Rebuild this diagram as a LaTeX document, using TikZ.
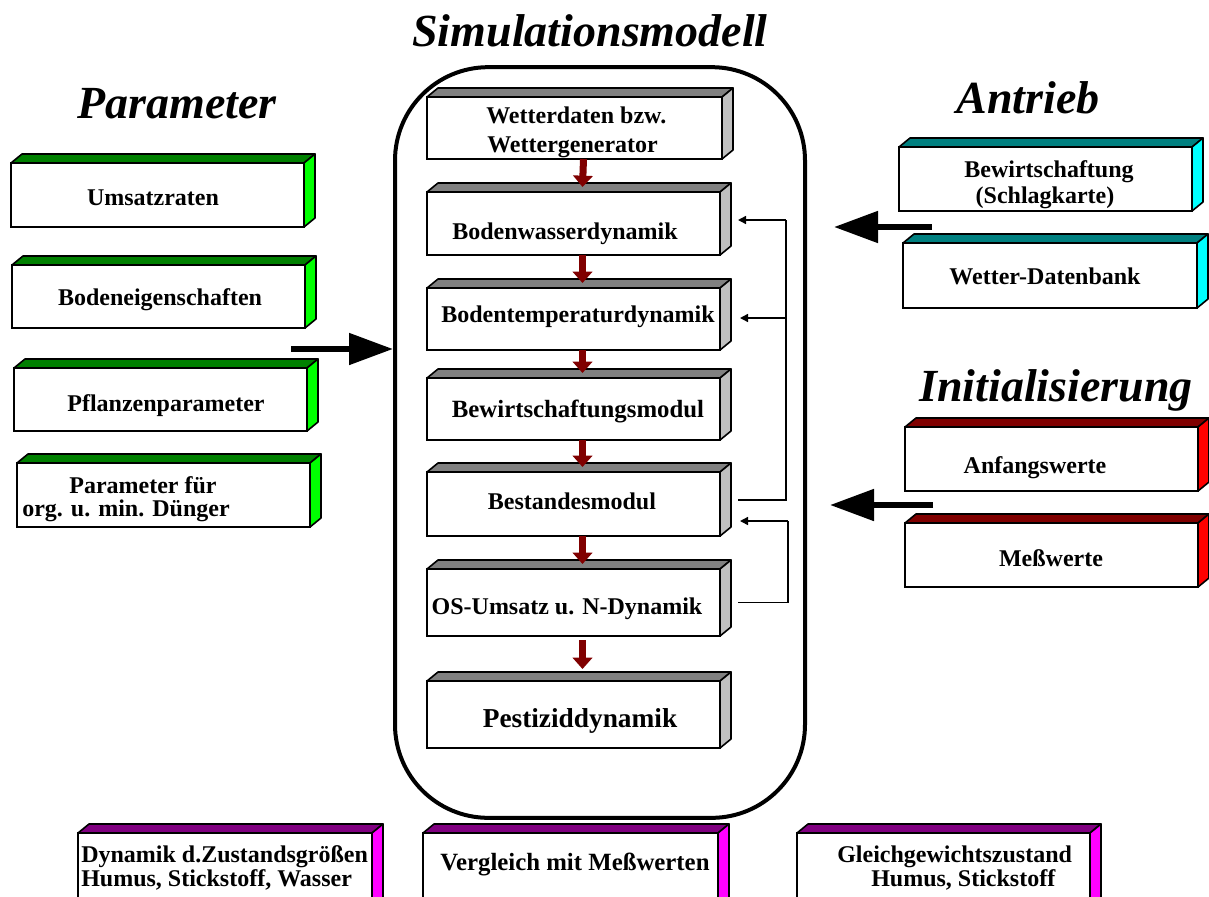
\documentclass[tikz,border=0pt]{standalone}
\usepackage{fontspec}
\setmainfont{Liberation Serif}
\usetikzlibrary{arrows.meta,fit,calc}
\definecolor{gtop}{HTML}{008000}\definecolor{gside}{HTML}{00FF00}
\definecolor{ktop}{HTML}{808080}\definecolor{kside}{HTML}{C0C0C0}
\definecolor{ttop}{HTML}{008080}\definecolor{tside}{HTML}{00FFFF}
\definecolor{rtop}{HTML}{800000}\definecolor{rside}{HTML}{FF0000}
\definecolor{ptop}{HTML}{800080}\definecolor{pside}{HTML}{FF00FF}
\definecolor{maroon}{HTML}{800000}
\newcommand{\tdbox}[7]{%
  \coordinate (#1-a) at (#2,#3);
  \coordinate (#1-b) at (#4,#5);
  \node[frontbox, fit=(#1-a)(#1-b)] (#1) {};
  \filldraw[face, fill=#6] (#1.north west) -- ++(11,-9) -- ([shift={(11,-9)}]#1.north east) -- (#1.north east) -- cycle;
  \filldraw[face, fill=#7] (#1.north east) -- ++(11,-9) -- ([shift={(11,-9)}]#1.south east) -- (#1.south east) -- cycle;
}
\begin{document}
\begin{tikzpicture}[x=0.75pt,y=-0.75pt,
  frontbox/.style={draw=black, fill=white, line width=1.4pt, inner sep=0pt, outer sep=0pt},
  face/.style={draw=black, line width=1.2pt, line join=round},
  lbl/.style={font=\fontsize{18}{15.75}\selectfont\bfseries, inner sep=0pt, anchor=base},
  ttl/.style={font=\fontsize{34.5}{40}\selectfont\bfseries\itshape, inner sep=0pt, anchor=base},
  redarrow/.style={draw=maroon, line width=5.25pt, -{Triangle[length=8.5pt,width=14.5pt,fill=maroon]}},
  bigarrow/.style={draw=black, line width=4.5pt, -{Triangle[length=33pt,width=23pt]}},
  fb/.style={draw=black, line width=1.1pt},
  fbarrow/.style={fb, -{Triangle[length=6pt,width=6pt]}}]
\useasboundingbox (0,0) rectangle (1209,896);
\clip (0,0) rectangle (1209,896);

% titles
\node[ttl] (tsim) at (590,46) {Simulationsmodell};
\node[ttl] (tpar) at (177,118) {Parameter};
\node[ttl] (tant) at (1028,113) {Antrieb};
\node[ttl] (tini) at (1056,401) {Initialisierung};

% big rounded frame
\node[draw=black, line width=3pt, rounded corners=70pt, minimum width=307.5pt, minimum height=563pt, inner sep=0pt] (simbox) at (600,442.5) {};

% left parameter boxes
\tdbox{umsatz}{11}{163}{304}{227}{gtop}{gside}
\tdbox{boden}{12}{265}{305}{328}{gtop}{gside}
\tdbox{pflanz}{14}{368}{307}{431}{gtop}{gside}
\tdbox{dueng}{17}{463}{310}{527}{gtop}{gside}
\node[lbl] (tumsatz) at (153,205) {Umsatzraten};
\node[lbl] (tboden) at (160,305) {Bodeneigenschaften};
\node[lbl] (tpflanz) at (166,411) {Pflanzenparameter};
\node[lbl] (tdueng1) at (143,493) {Parameter für};
\node[lbl] (tdueng2) at (126,516) {org. u. min. Dünger};

% centre boxes
\tdbox{wetter}{427}{97}{722}{159}{ktop}{kside}
\tdbox{bwd}{427}{192}{720}{255}{ktop}{kside}
\tdbox{btd}{427}{288}{720}{350}{ktop}{kside}
\tdbox{bwm}{427}{378}{720}{440}{ktop}{kside}
\tdbox{bst}{427}{472}{720}{536}{ktop}{kside}
\tdbox{osu}{427}{569}{720}{636}{ktop}{kside}
\tdbox{pest}{427}{681}{720}{748}{ktop}{kside}
\node[lbl, anchor=base west] (twetter1) at (486,123) {Wetterdaten bzw.};
\node[lbl, anchor=base west] (twetter2) at (487,152) {Wettergenerator};
\node[lbl] (tbwd) at (565,239) {Bodenwasserdynamik};
\node[lbl] (tbtd) at (578,322) {Bodentemperaturdynamik};
\node[lbl, font=\fontsize{18.6}{20}\selectfont\bfseries] (tbwm) at (578,417) {Bewirtschaftungsmodul};
\node[lbl] (tbst) at (572,509) {Bestandesmodul};
\node[lbl] (tosu) at (567,614) {OS-Umsatz u. N-Dynamik};
\node[lbl, font=\fontsize{20.5}{22}\selectfont\bfseries] (tpest) at (580,727) {Pestiziddynamik};

% red arrows
\foreach \a/\b in {wetter/bwd, bwd/btd, btd/bwm, bwm/bst, bst/osu}
  \draw[redarrow] ($(\a.south)+(9,0)$) -- ($(\b.north)+(9,-5)$);
\draw[redarrow] ($(osu.south)+(9,4)$) -- ($(pest.north)+(9,-12)$);

% feedback lines
\coordinate (fbtop) at (786,220);
\draw[fb] ($(bst.east)+(18,-4)$) -| (fbtop);
\draw[fbarrow] (fbtop) -- ($(bwd.east)+(18,-3.5)$);
\draw[fbarrow] (fbtop |- btd.east) ++(0,-1) -- ($(btd.east)+(20,-1)$);
\coordinate (fbbot) at (788,521);
\draw[fb] ($(osu.east)+(18,0)$) -| (fbbot);
\draw[fbarrow] (fbbot) -- ($(bst.east)+(20,17)$);

% right boxes
\tdbox{bew}{899}{147}{1192}{211}{ttop}{tside}
\tdbox{wdb}{903}{243}{1197}{308}{ttop}{tside}
\tdbox{anf}{905}{427}{1198}{491}{rtop}{rside}
\tdbox{mess}{905}{523}{1198}{587}{rtop}{rside}
\node[lbl] (tbew1) at (1049,177) {Bewirtschaftung};
\node[lbl] (tbew2) at (1045,203) {(Schlagkarte)};
\node[lbl] (twdb) at (1045,284) {Wetter-Datenbank};
\node[lbl] (tanf) at (1035,473) {Anfangswerte};
\node[lbl] (tmess) at (1051,566) {Meßwerte};

% big black arrows
\coordinate (pa) at (291,349);
\draw[bigarrow] (pa) -- (pa -| simbox.west);
\coordinate (aa1) at (932,227); \coordinate (aa2) at (834,227);
\draw[bigarrow] (aa1) -- (aa2);
\coordinate (ia1) at (933,505); \coordinate (ia2) at (830,505);
\draw[bigarrow] (ia1) -- (ia2);

% bottom boxes
\tdbox{dyn}{78}{833}{372}{915}{ptop}{pside}
\tdbox{vgl}{423}{833}{718}{915}{ptop}{pside}
\tdbox{ggw}{797}{833}{1090}{915}{ptop}{pside}
\node[lbl, anchor=base west, align=left] (tdyn) at (81,886) {Dynamik d.Zustandsgrößen\\Humus, Stickstoff, Wasser};
\node[lbl, font=\fontsize{18.6}{20}\selectfont\bfseries] (tvgl) at (575,870) {Vergleich mit Meßwerten};
\node[lbl, anchor=base west, align=left] (tggw) at (837,886) {Gleichgewichtszustand\\\hspace*{25.5pt}Humus, Stickstoff};
\end{tikzpicture}
\end{document}
